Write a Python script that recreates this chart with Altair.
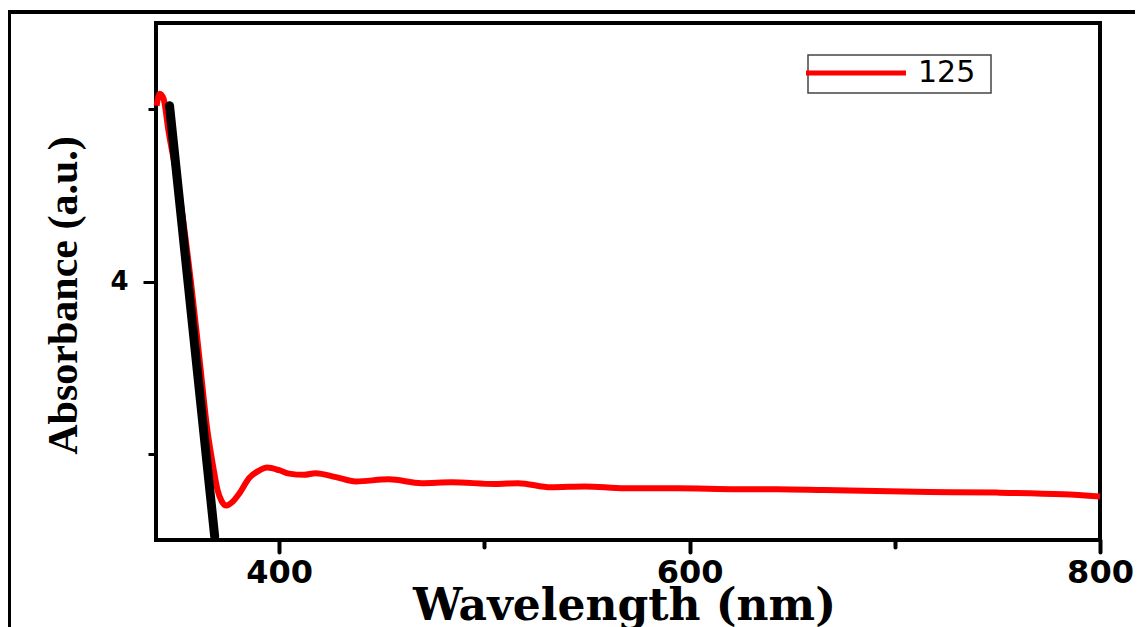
import altair as alt
import pandas as pd

# ---- data ----
wavelength = [340.3, 341.8, 343.7, 346.0, 350.5, 357.0, 361.3, 365.0, 367.8, 370.0,
              372.0, 374.3, 377.2, 380.6, 385.4, 389.8, 394.2, 400.0, 404.9, 412.1,
              417.8, 427.7, 437.4, 453.4, 469.4, 484.0, 505.3, 516.5, 532.5, 549.0,
              568.4, 594.2, 623.3, 642.7, 665.5, 717.0, 749.5, 782.0, 800.0]
absorbance = [5.02, 5.09, 5.06, 4.88, 4.58, 4.00, 3.54, 3.14, 2.93, 2.79,
              2.725, 2.70, 2.72, 2.77, 2.86, 2.90, 2.92, 2.905, 2.885, 2.878,
              2.888, 2.865, 2.84, 2.852, 2.83, 2.835, 2.825, 2.83, 2.806, 2.811,
              2.80, 2.80, 2.795, 2.795, 2.79, 2.778, 2.775, 2.765, 2.752]
fit_wavelength = [346.6, 368.6]
fit_absorbance = [5.02, 2.52]
series_name = "125"

x_ticks = [400, 500, 600, 700, 800]
x_labeled = [400, 600, 800]
y_ticks = [3, 4, 5]
y_labeled = [4]

df = pd.DataFrame({"Wavelength": wavelength, "Absorbance": absorbance,
                   "Sample": [series_name] * len(wavelength)})
fit_df = pd.DataFrame({"Wavelength": fit_wavelength, "Absorbance": fit_absorbance})
frame_df = pd.DataFrame({"k": [0]})

x_test = " || ".join(f"datum.value == {v}" for v in x_labeled)
y_test = " || ".join(f"datum.value == {v}" for v in y_labeled)

x_scale = alt.Scale(domain=[340, 800], nice=False, zero=False)
y_scale = alt.Scale(domain=[2.5, 5.5], nice=False, zero=False)

x_axis = alt.Axis(
    values=x_ticks,
    labelExpr=f"({x_test}) ? datum.label : ''",
    format="d",
    tickSize={"condition": {"test": x_test, "value": 12}, "value": 7},
    tickWidth=4, tickColor="black", tickCap="round",
    domain=False, grid=False,
    labelFont="DejaVu Sans", labelFontWeight="bold", labelFontSize=32,
    labelColor="black", labelBaseline="alphabetic", labelPadding=30,
    labelFlush=False, labelOverlap=False,
    title="Wavelength (nm)", titleFont="DejaVu Serif", titleFontWeight="bold",
    titleFontSize=44, titleColor="black", titleBaseline="alphabetic",
    titleAlign="center", titleX=468, titleY=79,
)
y_axis = alt.Axis(
    values=y_ticks,
    labelExpr=f"({y_test}) ? datum.label : ''",
    format="d",
    tickSize={"condition": {"test": y_test, "value": 13}, "value": 8},
    tickWidth=3, tickColor="black",
    domain=False, grid=False,
    labelFont="DejaVu Sans", labelFontWeight="bold", labelFontSize=26,
    labelColor="black", labelBaseline="middle", labelPadding=15,
    labelFlush=False, labelOverlap=False,
    title="Absorbance (a.u.)", titleFont="Liberation Serif", titleFontWeight="bold",
    titleFontSize=42, titleColor="black", titleBaseline="alphabetic",
    titleAlign="center", titleAngle=-90, titleX=-80, titleY=272,
)

legend = alt.Legend(
    orient="none", legendX=648, legendY=30, title=None,
    symbolType="M-5,0H5", symbolSize=400, symbolStrokeWidth=5,
    symbolOffset=32, labelOffset=47,
    labelFont="DejaVu Sans", labelFontSize=30, labelColor="black",
    padding=5, strokeColor="transparent", fillColor="transparent",
    cornerRadius=0,
)

# legend frame (decoration)
legend_box = alt.Chart(frame_df).mark_rect(
    fill="white", stroke="#444444", strokeWidth=1.5
).encode(x=alt.value(652), x2=alt.value(835), y=alt.value(32), y2=alt.value(70))

curve = alt.Chart(df).mark_line(strokeWidth=6, interpolate="monotone").encode(
    x=alt.X("Wavelength:Q", scale=x_scale, axis=x_axis),
    y=alt.Y("Absorbance:Q", scale=y_scale, axis=y_axis),
    color=alt.Color("Sample:N", scale=alt.Scale(range=["#ff0000"]), legend=legend),
)

fit = alt.Chart(fit_df).mark_line(strokeWidth=9, color="black", strokeCap="round").encode(
    x=alt.X("Wavelength:Q", scale=x_scale),
    y=alt.Y("Absorbance:Q", scale=y_scale),
)

outer_top = alt.Chart(frame_df).mark_rule(color="black", strokeWidth=4).encode(
    x=alt.value(-149), x2=alt.value(995), y=alt.value(-11)
)
outer_left = alt.Chart(frame_df).mark_rule(color="black", strokeWidth=4).encode(
    x=alt.value(-147), y=alt.value(-13), y2=alt.value(620)
)

chart = alt.layer(legend_box, curve, fit, outer_top, outer_left).properties(
    width=944, height=517,
    autosize=alt.AutoSizeParams(type="none"),
    padding={"left": 148, "top": 15, "right": 35, "bottom": 87},
    background="white",
).configure_view(stroke="black", strokeWidth=4)

chart.save("out.html", embed_options={"renderer": "svg", "actions": False})
